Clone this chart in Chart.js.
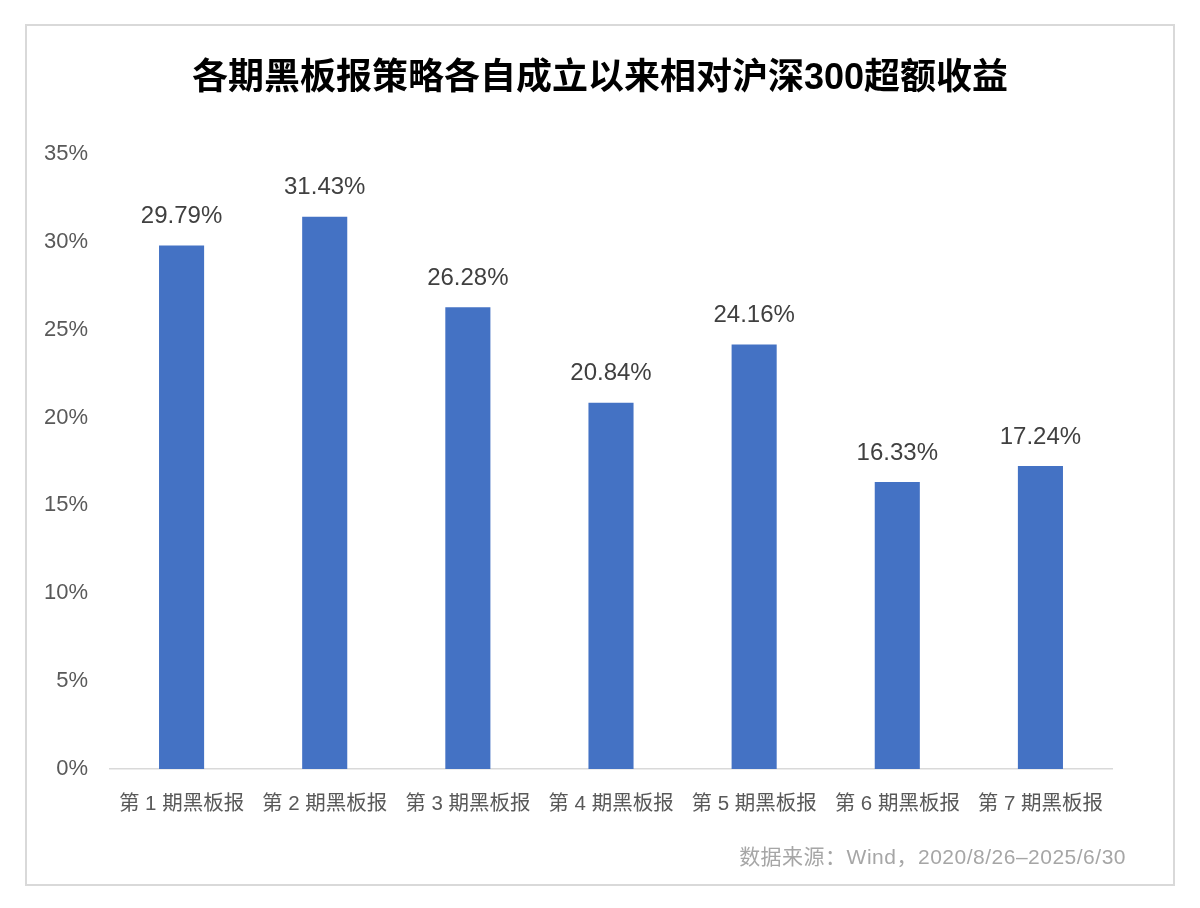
<!DOCTYPE html>
<html>
<head>
<meta charset="utf-8">
<script src="https://cdn.jsdelivr.net/npm/chart.js@4.4.1/dist/chart.umd.min.js"></script>
<style>
  body { margin: 0; background: #fff; font-family: "Liberation Sans", "Noto Sans CJK SC", sans-serif; }
  #frame { position: absolute; left: 25px; top: 24px; width: 1146px; height: 858px; border: 2px solid #d9d9d9; }
  #chart_box { position: absolute; left: 0; top: 0; width: 1146px; height: 858px; }
  #title { position: absolute; left: 0; width: 1146px; top: 29px; text-align: center; font-size: 36px; font-weight: bold; color: #000; line-height: 44px; font-family: "Liberation Sans", "Noto Sans CJK SC", sans-serif; }
  #source { position: absolute; right: 47px; top: 818px; font-size: 21px; letter-spacing: 0.5px; color: #a6a6a6; line-height: 26px; }
</style>
</head>
<body>
<div id="frame">
  <div id="chart_box"><canvas id="excessChart"></canvas></div>
  <div id="title">各期黑板报策略各自成立以来相对沪深300超额收益</div>
  <div id="source">数据来源：Wind，2020/8/26–2025/6/30</div>
</div>
<script>
// categories and values (%)
const periods = ['第 1 期黑板报', '第 2 期黑板报', '第 3 期黑板报', '第 4 期黑板报', '第 5 期黑板报', '第 6 期黑板报', '第 7 期黑板报'];
const excessReturn = [29.79, 31.43, 26.28, 20.84, 24.16, 16.33, 17.24];
const yTicks = [0, 5, 10, 15, 20, 25, 30, 35];

const latinFont = '"Liberation Sans", "Noto Sans CJK SC", sans-serif';

// value labels above each bar
const barLabels = {
  id: 'barLabels',
  afterDatasetsDraw(chart) {
    const ctx = chart.ctx;
    const meta = chart.getDatasetMeta(0);
    ctx.save();
    ctx.font = '24px ' + latinFont;
    ctx.fillStyle = '#404040';
    ctx.textAlign = 'center';
    ctx.textBaseline = 'middle';
    meta.data.forEach((bar, i) => {
      ctx.fillText(excessReturn[i].toFixed(2) + '%', bar.x, bar.y - 29);
    });
    ctx.restore();
  }
};

new Chart(document.getElementById('excessChart').getContext('2d'), {
  type: 'bar',
  data: {
    labels: periods,
    datasets: [{
      data: excessReturn,
      backgroundColor: '#4472c4',
      barPercentage: 0.315,
      categoryPercentage: 1
    }]
  },
  options: {
    responsive: true,
    maintainAspectRatio: false,
    animation: false,
    layout: { padding: { top: 128, right: 61, bottom: 55, left: 0 } },
    plugins: {
      legend: { display: false },
      tooltip: { enabled: false }
    },
    scales: {
      x: {
        grid: { display: false, drawTicks: false },
        border: { display: true, color: '#d9d9d9', width: 1.5 },
        ticks: { color: '#595959', font: { size: 20.5, family: latinFont }, padding: 23, maxRotation: 0, autoSkip: false },
        afterFit(scale) { scale.height = 60; }
      },
      y: {
        min: 0,
        max: 35,
        grid: { display: false, drawTicks: false },
        border: { display: false },
        afterBuildTicks(scale) { scale.ticks = yTicks.map(v => ({ value: v })); },
        ticks: {
          color: '#595959',
          font: { size: 22, family: latinFont },
          padding: 22,
          callback: v => v + '%'
        },
        afterFit(scale) { scale.width = 83; }
      }
    }
  },
  plugins: [barLabels]
});
</script>
</body>
</html>
